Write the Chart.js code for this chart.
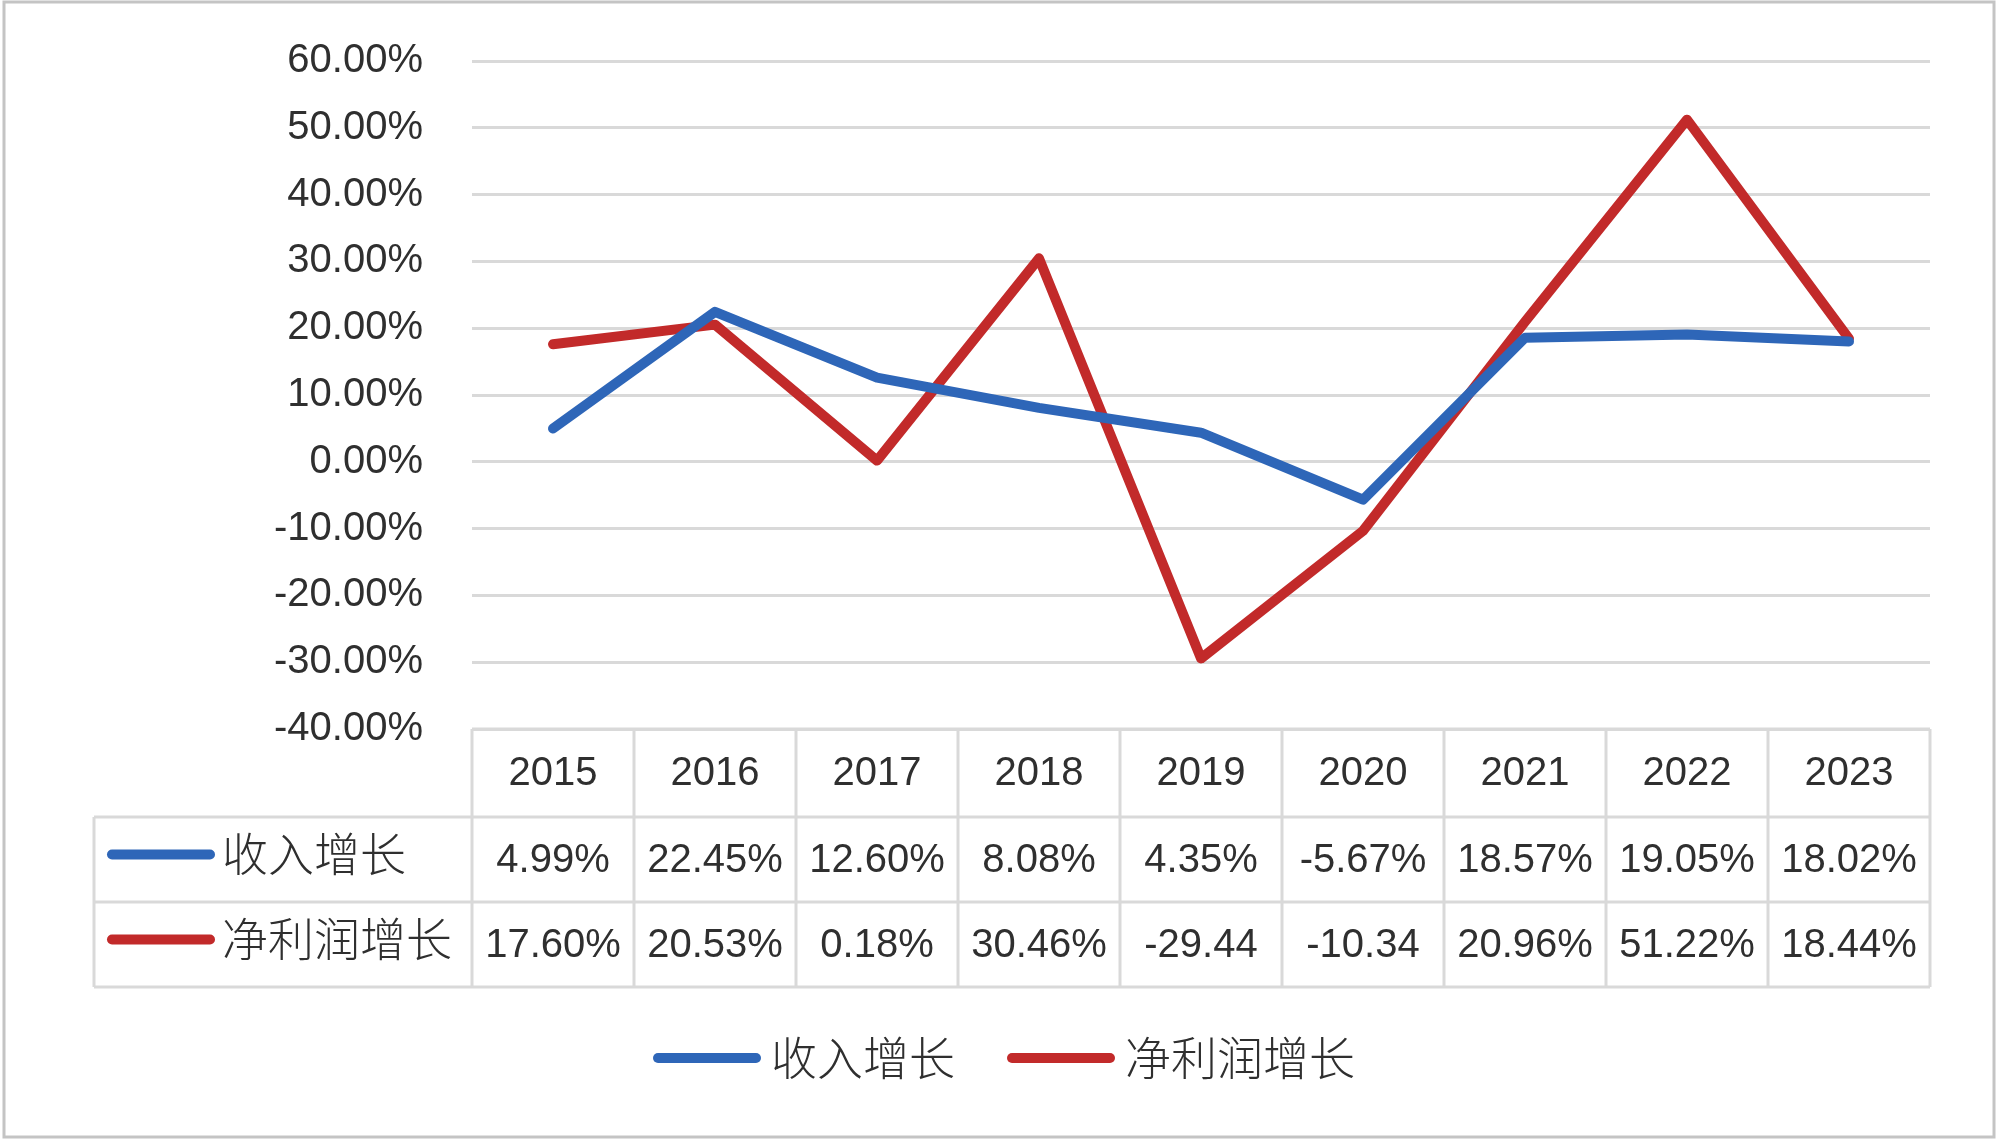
<!DOCTYPE html>
<html>
<head>
<meta charset="utf-8">
<title>收入增长与净利润增长</title>
<script src="https://cdn.jsdelivr.net/npm/chart.js@4.4.1/dist/chart.umd.min.js"></script>
<style>
  html, body { margin: 0; padding: 0; background: #fff; }
  #wrap { width: 2000px; height: 1143px; }
</style>
</head>
<body>
<div id="wrap"><canvas id="chart" width="2000" height="1143"></canvas></div>
<script>
// 年份与两条增长率序列（单位 %）
const years = ["2015", "2016", "2017", "2018", "2019", "2020", "2021", "2022", "2023"];
const revenueGrowth = [4.99, 22.45, 12.60, 8.08, 4.35, -5.67, 18.57, 19.05, 18.02];
const profitGrowth = [17.60, 20.53, 0.18, 30.46, -29.44, -10.34, 20.96, 51.22, 18.44];
// 表格中显示的文字（原图中两个负值被截断）
const revenueText = ["4.99%", "22.45%", "12.60%", "8.08%", "4.35%", "-5.67%", "18.57%", "19.05%", "18.02%"];
const profitText = ["17.60%", "20.53%", "0.18%", "30.46%", "-29.44", "-10.34", "20.96%", "51.22%", "18.44%"];
const seriesNames = ["收入增长", "净利润增长"];
const yMin = -40, yMax = 60, yStep = 10;

const BLUE = "#2e66b8";
const RED = "#c22a2a";
const GRID = "#d9d9d9";
const TEXT = "#2f2f2f";
const NUM_FONT = "40px 'Liberation Sans', Arial, sans-serif";
const CJK_FONT = "300 46px 'Noto Sans CJK SC', sans-serif";

// 背景和外边框
const frame = {
    id: "frame",
    beforeDraw(chart) {
        const ctx = chart.ctx;
        ctx.save();
        ctx.fillStyle = "#fff";
        ctx.fillRect(0, 0, chart.width, chart.height);
        ctx.restore();
    },
    afterDraw(chart) {
        const ctx = chart.ctx;
        ctx.save();
        ctx.strokeStyle = "#c4c4c4";
        ctx.lineWidth = 3;
        ctx.strokeRect(4, 2, chart.width - 10, chart.height - 8);
        ctx.restore();
    }
};

function legendLine(ctx, x1, x2, y, color) {
    ctx.save();
    ctx.strokeStyle = color;
    ctx.lineWidth = 10;
    ctx.lineCap = "round";
    ctx.beginPath();
    ctx.moveTo(x1 + 5, y);
    ctx.lineTo(x2 - 5, y);
    ctx.stroke();
    ctx.restore();
}

// 模拟数据表 + 底部图例
const dataTable = {
    id: "dataTable",
    afterDraw(chart) {
        const ctx = chart.ctx;
        const xs = chart.scales.x;
        const area = chart.chartArea;
        const step = (area.right - area.left) / years.length;
        const rowTop = area.bottom;
        const rowH = [88, 85, 85];
        const y1 = rowTop + rowH[0];
        const y2 = y1 + rowH[1];
        const y3 = y2 + rowH[2];
        const tableLeft = 94;

        ctx.save();
        ctx.strokeStyle = GRID;
        ctx.lineWidth = 3;
        ctx.beginPath();
        // 横线
        ctx.moveTo(area.left, rowTop); ctx.lineTo(area.right, rowTop);
        [y1, y2, y3].forEach(y => { ctx.moveTo(tableLeft, y); ctx.lineTo(area.right, y); });
        // 竖线
        for (let i = 0; i <= years.length; i++) {
            const x = area.left + i * step;
            ctx.moveTo(x, rowTop); ctx.lineTo(x, y3);
        }
        ctx.moveTo(tableLeft, y1); ctx.lineTo(tableLeft, y3);
        ctx.stroke();

        ctx.fillStyle = TEXT;
        ctx.textAlign = "center";
        ctx.textBaseline = "middle";
        ctx.font = NUM_FONT;
        years.forEach((yr, i) => {
            const cx = xs.getPixelForValue(i);
            ctx.fillText(yr, cx, (rowTop + y1) / 2 + 1);
            ctx.fillText(revenueText[i], cx, (y1 + y2) / 2 + 1);
            ctx.fillText(profitText[i], cx, (y2 + y3) / 2 + 1);
        });

        // 表内图例
        legendLine(ctx, 107, 215, (y1 + y2) / 2 - 5, BLUE);
        legendLine(ctx, 107, 215, (y2 + y3) / 2 - 5, RED);
        ctx.font = CJK_FONT;
        ctx.textAlign = "left";
        ctx.fillText(seriesNames[0], 222, (y1 + y2) / 2 - 6);
        ctx.fillText(seriesNames[1], 222, (y2 + y3) / 2 - 6);

        // 底部图例
        const ly = 1058;
        const colors = [BLUE, RED];
        const sample = 108, gap = 10, between = 52;
        const widths = seriesNames.map(n => ctx.measureText(n).width);
        const total = sample * 2 + gap * 2 + widths[0] + widths[1] + between;
        let x = chart.width / 2 - total / 2 + 4;
        seriesNames.forEach((n, i) => {
            legendLine(ctx, x, x + sample, ly, colors[i]);
            x += sample + gap;
            ctx.fillText(n, x, ly);
            x += widths[i] + between;
        });
        ctx.restore();
    }
};

new Chart(document.getElementById("chart"), {
    type: "line",
    data: {
        labels: years,
        datasets: [
            {
                label: seriesNames[0],
                data: revenueGrowth,
                borderColor: BLUE,
                backgroundColor: BLUE,
                borderWidth: 10,
                borderJoinStyle: "round",
                borderCapStyle: "round",
                pointRadius: 0,
                tension: 0
            },
            {
                label: seriesNames[1],
                data: profitGrowth,
                borderColor: RED,
                backgroundColor: RED,
                borderWidth: 10,
                borderJoinStyle: "round",
                borderCapStyle: "round",
                pointRadius: 0,
                tension: 0
            }
        ]
    },
    options: {
        responsive: false,
        animation: false,
        layout: { padding: { left: 0, right: 70, top: 61, bottom: 414 } },
        plugins: {
            legend: { display: false },
            tooltip: { enabled: false }
        },
        scales: {
            x: {
                type: "category",
                offset: true,
                display: false
            },
            y: {
                min: yMin,
                max: yMax,
                afterFit(scale) { scale.width = 472; },
                border: { display: false },
                grid: {
                    color: GRID,
                    lineWidth: 3,
                    drawTicks: true,
                    tickLength: 49,
                    tickColor: "rgba(0,0,0,0)"
                },
                ticks: {
                    stepSize: yStep,
                    padding: 0,
                    color: TEXT,
                    font: { family: "'Liberation Sans', Arial, sans-serif", size: 40 },
                    callback: v => v.toFixed(2) + "%"
                }
            }
        }
    },
    plugins: [frame, dataTable]
});
</script>
</body>
</html>
